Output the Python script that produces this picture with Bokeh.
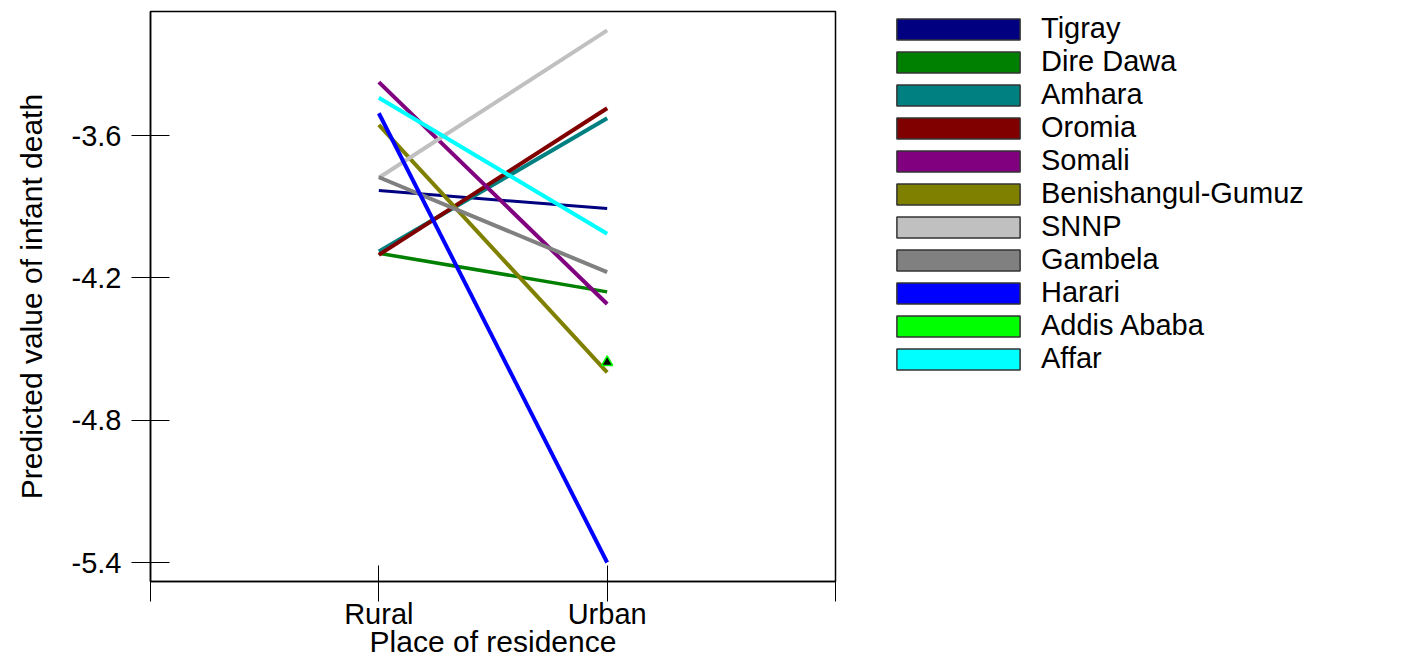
from bokeh.plotting import figure
from bokeh.layouts import row
from bokeh.models import Range1d, FixedTicker, Legend, LegendItem, CustomJSTickFormatter
from bokeh.embed import file_html
from bokeh.resources import INLINE

regions = ["Tigray", "Dire Dawa", "Amhara", "Oromia", "Somali", "Benishangul-Gumuz",
           "SNNP", "Gambela", "Harari", "Addis Ababa", "Affar"]
colors = ["#000080", "#008000", "#008080", "#800000", "#800080", "#808000",
          "#C0C0C0", "#808080", "#0000FF", "#00FF00", "#00FFFF"]
rural = [-3.832, -4.096, -4.089, -4.103, -3.375, -3.555, -3.778, -3.776, -3.506, None, -3.441]
urban = [-3.908, -4.259, -3.527, -3.485, -4.310, -4.598, -3.157, -4.176, -5.400, -4.556, -4.014]
residence_ticks = [0, 1, 2, 3]
residence_labels = ["", "Rural", "Urban", ""]
y_ticks = [-3.6, -4.2, -4.8, -5.4]

FONT = "Liberation Sans"
H = 660

p = figure(width=840, height=H, output_backend="svg", toolbar_location=None,
           x_range=Range1d(0, 3), y_range=Range1d(-5.480, -3.0772),
           min_border_left=150, min_border_right=5, min_border_top=11, min_border_bottom=60)
p.grid.visible = False
p.outline_line_color = "black"
p.outline_line_width = 1.5
p.background_fill_color = "white"
p.border_fill_color = "white"

# x axis
p.xaxis.ticker = FixedTicker(ticks=residence_ticks)
p.xaxis.major_label_overrides = {t: l for t, l in zip(residence_ticks, residence_labels)}
p.xaxis.axis_label = "Place of residence"
p.xaxis.minor_tick_line_color = None
p.xaxis.major_tick_in = 16
p.xaxis.major_tick_out = 20
p.xaxis.major_label_standoff = -4
p.xaxis.axis_label_standoff = -8

# y axis
p.yaxis.ticker = FixedTicker(ticks=y_ticks)
p.yaxis.formatter = CustomJSTickFormatter(code="return tick.toFixed(1);")
p.yaxis.axis_label = "Predicted value of infant death"
p.yaxis.minor_tick_line_color = None
p.yaxis.major_tick_in = 19
p.yaxis.major_tick_out = 19
p.yaxis.major_label_standoff = 10
p.yaxis.axis_label_standoff = 21

for ax in (p.xaxis, p.yaxis):
    ax.axis_line_color = "black"
    ax.axis_line_width = 1.5
    ax.major_tick_line_color = "black"
    ax.major_tick_line_width = 1
    ax.major_label_text_font = FONT
    ax.major_label_text_font_size = "29px"
    ax.major_label_text_color = "black"
    ax.axis_label_text_font = FONT
    ax.axis_label_text_font_size = "30px"
    ax.axis_label_text_font_style = "normal"
    ax.axis_label_text_color = "black"

widths = [3, 3.5, 4, 4, 4, 4, 4, 4, 4, 4, 4]
for name, col, r, u, w in zip(regions, colors, rural, urban, widths):
    if r is not None:
        p.line(x=[1, 2], y=[r, u], line_color=col, line_width=w)
    else:
        p.scatter(x=[2], y=[u], marker="triangle", size=11, fill_color="black",
                  line_color=col, line_width=1.5)

# legend panel (separate figure so the legend is not clipped by the plot frame)
lg = figure(width=560, height=H, output_backend="svg", toolbar_location=None,
            x_axis_type=None, y_axis_type=None, x_range=Range1d(0, 1), y_range=Range1d(0, 1),
            min_border_left=0, min_border_right=0, min_border_top=0, min_border_bottom=0)
lg.grid.visible = False
lg.outline_line_color = None
lg.background_fill_color = "white"
lg.border_fill_color = "white"

nan = float("nan")
items = []
for name, col in zip(regions, colors):
    box = lg.rect(x=[nan], y=[nan], width=1, height=1, fill_color=col,
                  line_color="#333333", line_width=1.5)
    items.append(LegendItem(label=name, renderers=[box]))

legend = Legend(items=items, location=(41, 206),
                glyph_width=154, glyph_height=26, label_height=26,
                spacing=0, padding=10, margin=0, label_standoff=6,
                label_text_font=FONT, label_text_font_size="29px",
                label_text_color="black",
                border_line_color=None, background_fill_alpha=0)
lg.add_layout(legend, "center")

layout = row(p, lg, spacing=0)
open("out.html", "w").write(file_html(layout, INLINE))
